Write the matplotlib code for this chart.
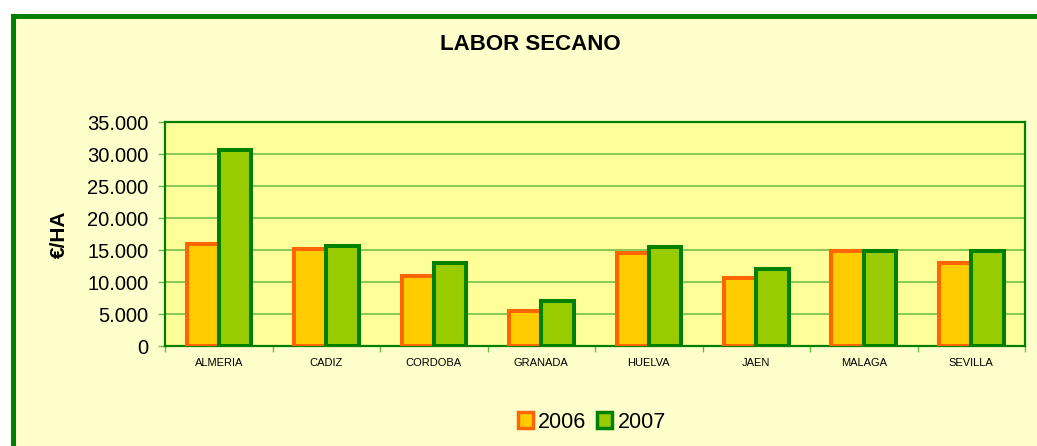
import numpy as np
import matplotlib
matplotlib.use("Agg")
from matplotlib import pyplot as plt
from matplotlib.patches import Rectangle

plt.rcParams["font.family"] = ["Liberation Sans", "DejaVu Sans"]

provinces = ["ALMERIA", "CADIZ", "CORDOBA", "GRANADA", "HUELVA", "JAEN", "MALAGA", "SEVILLA"]
years = ["2006", "2007"]
values_2006 = [16000, 15100, 11000, 5500, 14500, 10700, 14800, 12900]
values_2007 = [30600, 15600, 12900, 7000, 15500, 12000, 14800, 14800]
y_ticks = [0, 5000, 10000, 15000, 20000, 25000, 30000, 35000]
y_tick_labels = ["0", "5.000", "10.000", "15.000", "20.000", "25.000", "30.000", "35.000"]

fill_colors = ["#FFCC00", "#99CC00"]
edge_colors = ["#FF6600", "#008000"]

W, H = 1037, 446
fig = plt.figure(figsize=(W / 100, H / 100), dpi=100)
fig.patch.set_facecolor("white")

# chart area with green frame (cropped at right and bottom)
frame = Rectangle((12.5 / W, -0.05), 1.1, 1.05 - 15.5 / H, transform=fig.transFigure,
                  facecolor="#FFFFCC", edgecolor="#008000", linewidth=3.6, zorder=-5)
fig.patches.append(frame)

ax = fig.add_axes([165 / W, 1 - 346 / H, (1025 - 165) / W, (346 - 122) / H])
ax.set_zorder(2)
ax.set_facecolor("#FFFF99")

x = np.arange(len(provinces))
bw = 0.3
ax.bar(x - bw / 2, values_2006, bw, color=fill_colors[0], edgecolor=edge_colors[0],
       linewidth=2.9, zorder=3, label=years[0])
ax.bar(x + bw / 2, values_2007, bw, color=fill_colors[1], edgecolor=edge_colors[1],
       linewidth=2.9, zorder=4, label=years[1])

ax.set_xlim(-0.5, len(provinces) - 0.5)
ax.set_ylim(0, 35000)
ax.set_yticks(y_ticks)
ax.set_yticklabels(y_tick_labels, fontsize=14.5)
ax.set_xticks(x)
ax.set_xticklabels(provinces, fontsize=8)
ax.set_xticks(np.arange(len(provinces) + 1) - 0.5, minor=True)
ax.tick_params(axis="x", which="major", length=0, pad=9)
ax.tick_params(axis="x", which="minor", length=4, color="#66BB44", width=1)
ax.tick_params(axis="y", length=5, color="#66BB44", width=1, pad=7)

ax.grid(axis="y", color="#66BB44", linewidth=1.1, zorder=1)
ax.set_axisbelow(True)
for s in ax.spines.values():
    s.set_color("#008000")
    s.set_linewidth(1.6)

ax.set_ylabel("€/HA", fontsize=15, fontweight="bold", labelpad=13)

fig.text(530 / W, 1 - 45 / H, "LABOR SECANO", ha="center", va="center",
         fontsize=16, fontweight="bold")

handles = [Rectangle((0, 0), 1, 1, facecolor=fill_colors[i], edgecolor=edge_colors[i],
                     linewidth=2.5) for i in range(2)]
fig.legend(handles, years, loc="center", bbox_to_anchor=(592 / W, 1 - 422 / H),
           ncol=2, frameon=False, fontsize=15.5, handlelength=0.7, handleheight=0.7,
           handletextpad=0.25, columnspacing=0.5)

fig.savefig("out.png", dpi=100)
